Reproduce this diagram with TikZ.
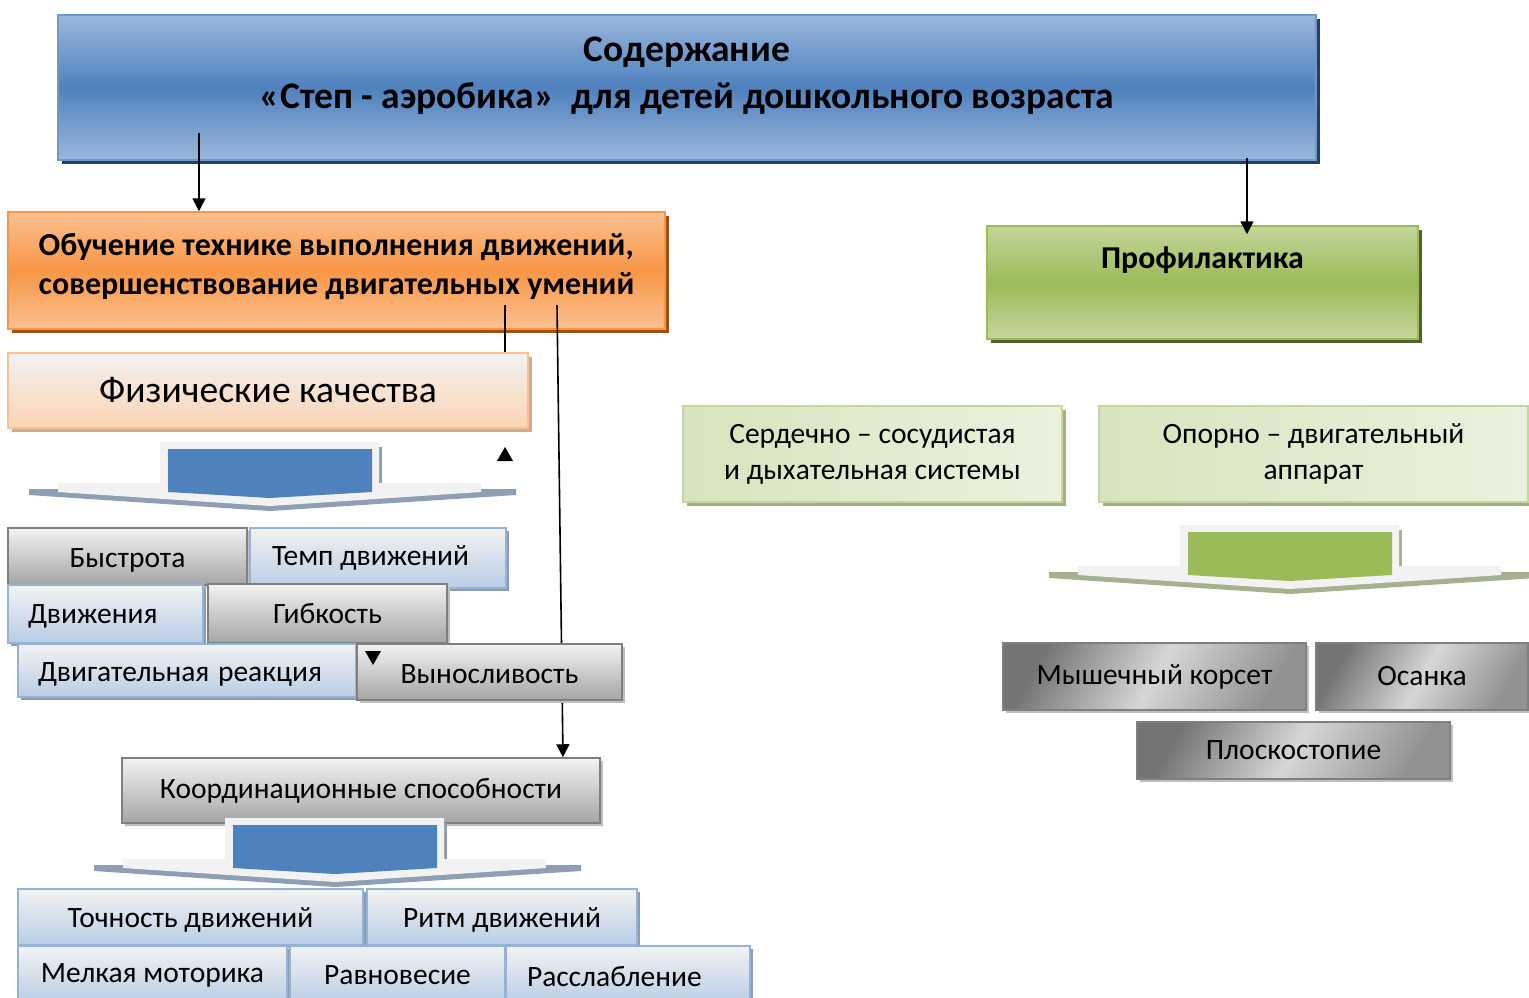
\documentclass[tikz,border=0pt]{standalone}
\usepackage{fontspec}
\setmainfont{Carlito}
\usetikzlibrary{shadows,arrows.meta}

\definecolor{titlelight}{HTML}{9AB7DC}
\definecolor{titlemid}{HTML}{4F81BD}
\definecolor{titleline}{HTML}{7097CB}
\definecolor{titleshade}{HTML}{243F60}
\definecolor{orlight}{HTML}{FAC090}
\definecolor{ormid}{HTML}{F79646}
\definecolor{orshade}{HTML}{A0500F}
\definecolor{grlight}{HTML}{C3D69B}
\definecolor{grmid}{HTML}{9BBB59}
\definecolor{grshade}{HTML}{4F6228}
\definecolor{peach}{HTML}{FBD4B4}
\definecolor{peachshade}{HTML}{D2AA8C}
\definecolor{palegreen}{HTML}{D7E4BD}
\definecolor{palegreenb}{HTML}{EBF1DE}
\definecolor{palegreenshade}{HTML}{A3AD90}
\definecolor{itemblue}{HTML}{B9CDE5}
\definecolor{itemblueline}{HTML}{95B3D7}
\definecolor{itemblueshade}{HTML}{8C9DB3}
\definecolor{itemgrey}{HTML}{A5A5A5}
\definecolor{itemgreyline}{HTML}{7F7F7F}
\definecolor{itemgreyshade}{HTML}{BFBFBF}
\definecolor{darkgreyA}{HTML}{747474}
\definecolor{darkgreyB}{HTML}{D6D6D6}
\definecolor{darkgreyC}{HTML}{929292}
\definecolor{chevlight}{HTML}{F2F2F2}
\definecolor{chevblue}{HTML}{4F81BD}
\definecolor{chevblueshade}{HTML}{8E9FB3}
\definecolor{chevgreen}{HTML}{9BBB59}
\definecolor{chevgreenshade}{HTML}{A5B190}

\tikzset{
  box/.style={rectangle, inner sep=0pt, align=center},
  shadowed/.style={drop shadow={shadow xshift=4pt, shadow yshift=-4pt, fill=#1, opacity=1}},
  titlebox/.style={box, draw=titleline, line width=1.5pt, top color=titlelight, bottom color=titlelight, middle color=titlemid, shadowed=titleshade, font=\fontsize{37.5}{47}\selectfont\bfseries},
  orangebox/.style={box, draw=ormid, line width=1.5pt, top color=orlight, bottom color=orlight, middle color=ormid, shadowed=orshade, align=left, font=\fontsize{32}{39}\selectfont\bfseries},
  greenbox/.style={box, draw=grmid, line width=1.5pt, top color=grlight, bottom color=grlight, middle color=grmid, shadowed=grshade, font=\fontsize{31.8}{36}\selectfont\bfseries},
  physbox/.style={box, draw=orlight, line width=1.5pt, top color=chevlight, bottom color=peach, shadowed=peachshade, font=\fontsize{37.6}{40}\selectfont},
  systembox/.style={box, draw=grlight, line width=1.2pt, left color=palegreen, right color=palegreenb, shadowed=palegreenshade, font=\fontsize{29.5}{36}\selectfont},
  bluebox/.style={box, draw=itemblueline, line width=1.5pt, top color=chevlight, bottom color=itemblue, drop shadow={shadow xshift=3pt, shadow yshift=-3pt, fill=itemblueshade, opacity=1}, font=\fontsize{29.5}{32}\selectfont},
  greybox/.style={box, draw=itemgreyline, line width=1.5pt, top color=chevlight, bottom color=itemgrey, drop shadow={shadow xshift=3pt, shadow yshift=-3pt, fill=itemgreyshade, opacity=1}, font=\fontsize{29.5}{32}\selectfont},
  darkbox/.style={box, draw=itemgreyline, line width=1.5pt, left color=darkgreyA, right color=darkgreyC, middle color=darkgreyB, shading angle=60, drop shadow={shadow xshift=3pt, shadow yshift=-3pt, fill=itemgreyshade, opacity=1}, font=\fontsize{29.5}{32}\selectfont},
  conn/.style={line width=1.6pt, -{Triangle[length=13pt,width=13pt]}},
  wire/.style={line width=1.6pt},
  pics/chevron/.style 2 args={code={
    \fill[#2] (-241,47) -- (246,47) -- (246,53) -- (0,69) -- (-241,53) -- cycle;
    \fill[#2] (109,5) rectangle (112,41);
    \fill[chevlight] (-110,0) -- (109,0) -- (109,41) -- (211,41) -- (211,50) -- (0,64) -- (-212,50) -- (-212,41) -- (-110,41) -- cycle;
    \fill[#1] (-102,7) -- (102,7) -- (102,50) -- (0,56) -- (-102,50) -- cycle;
  }}
}

\begin{document}
\begin{tikzpicture}[x=1pt, y=-1pt]
  \useasboundingbox[fill=white] (0,0) rectangle (1529,997);

  % upper level
  \node (title) at (687,87.5) [titlebox, minimum width=1258, minimum height=145, text depth=30pt] {Содержание\\«Степ - аэробика» \ для детей дошкольного возраста};
  \node (training) at (336.5,270.5) [orangebox, minimum width=657, minimum height=117, text depth=14pt] {Обучение технике выполнения движений,\\совершенствование двигательных умений};
  \node (prevention) at (1202.5,282.5) [greenbox, minimum width=431, minimum height=113, text depth=50pt] {Профилактика};

  % left branch
  \node (physical) at (268,390.5) [physbox, minimum width=520, minimum height=75] {Физические качества};
  \pic at (270,442) {chevron={chevblue}{chevblueshade}};
  \node (coord) at (361,790.5) [greybox, minimum width=478, minimum height=65] {Координационные способности};
  \pic at (335,818) {chevron={chevblue}{chevblueshade}};

  % connectors
  \coordinate (tl) at (199,133);
  \coordinate (tr) at (1247,158);
  \coordinate (ol) at (505,305);
  \coordinate (or) at (557,305);
  \coordinate (oe) at (563,0);
  \draw[conn] (tl) -- (tl |- training.north);
  \draw[conn] (tr) -- ([yshift=-9pt]tr |- prevention.north);
  \draw[wire] (ol) -- (ol |- physical.north);
  \draw[conn] (or) -- (oe |- coord.north);

  \node (speed) at (127.5,556.5) [greybox, minimum width=239, minimum height=57, text height=26pt] {Быстрота};
  \node (tempo) at (378,558) [bluebox, minimum width=256, minimum height=60, text width=212, align=flush left] {Темп движений};
  \node (moves) at (105.5,614) [bluebox, minimum width=195, minimum height=58, text width=155, align=flush left, text height=24pt] {Движения};
  \node (flexibility) at (327.5,613.5) [greybox, minimum width=239, minimum height=59] {Гибкость};
  \node (reaction) at (187,670.5) [bluebox, minimum width=338, minimum height=53, text width=298, align=flush left, text height=26pt] {Двигательная\hspace{2pt} реакция};
  \node (endurance) at (489.5,672) [greybox, minimum width=265, minimum height=56, text height=24pt] {Выносливость};

  \node (accuracy) at (190.5,917) [bluebox, minimum width=345, minimum height=56, text height=26pt] {Точность движений};
  \node (rhythm) at (502,917) [bluebox, minimum width=270, minimum height=56, text height=26pt] {Ритм движений};
  \node (motor) at (152.5,975) [bluebox, minimum width=269, minimum height=58] {Мелкая моторика};
  \node (balance) at (397.5,975) [bluebox, minimum width=215, minimum height=58] {Равновесие};
  \node (relax) at (628,975) [bluebox, minimum width=244, minimum height=58, text width=202, align=flush left, text height=24pt] {Расслабление};

  % right branch
  \node (heart) at (872.5,454) [systembox, minimum width=379, minimum height=96] {Сердечно – сосудистая\\и дыхательная системы};
  \node (support) at (1313.5,454) [systembox, minimum width=429, minimum height=96] {Опорно – двигательный\\аппарат};
  \pic at (1290,525) {chevron={chevgreen}{chevgreenshade}};

  \node (muscle) at (1154.5,676.5) [darkbox, minimum width=303, minimum height=67] {Мышечный корсет};
  \node (posture) at (1422,676.5) [darkbox, minimum width=212, minimum height=67] {Осанка};
  \node (flatfoot) at (1293.5,750.5) [darkbox, minimum width=313, minimum height=57] {Плоскостопие};

  % loose arrow tips
  \fill (505,447) -- (513,461) -- (497,461) -- cycle;
  \fill (373,665) -- (381,651) -- (365,651) -- cycle;
\end{tikzpicture}
\end{document}
